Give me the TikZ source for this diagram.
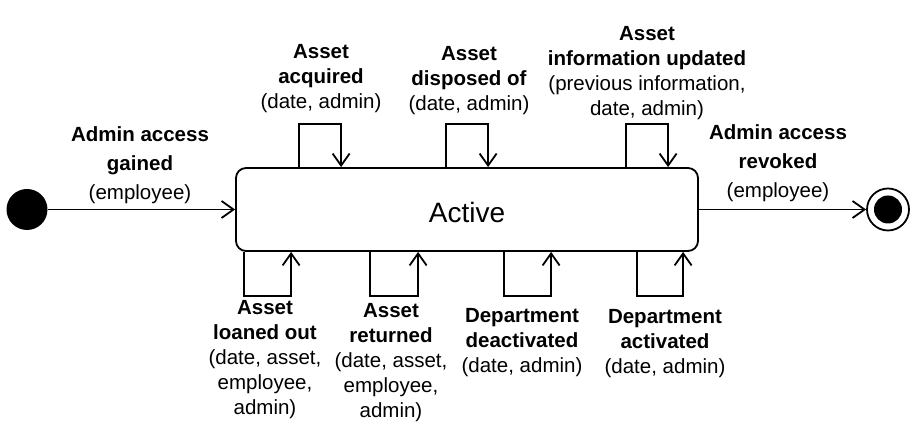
\documentclass[tikz,border=0pt]{standalone}
\usepackage{fontspec}
\setmainfont{Liberation Sans}
\usepackage{tikz}
\usetikzlibrary{shapes,arrows.meta}
\usetikzlibrary{positioning}
\tikzstyle{arrow} = [line width=1.8pt,-{Straight Barb[length=12pt,width=17pt]}]
\tikzstyle{state} = [
    rectangle, rounded corners=10pt, minimum width=462pt, minimum height=83pt,
    draw=black, line width=1.8pt, font=\fontsize{28}{32}\selectfont]
\tikzstyle{event} = [align=center, inner sep=0pt, font=\fontsize{20.5}{25}\selectfont]
\tikzstyle{start} = [circle, fill=black, minimum size=41pt, inner sep=0pt]
\tikzstyle{stop} = [circle, draw=black, line width=1.8pt, minimum size=42pt, inner sep=0pt]

\begin{document}
\begin{tikzpicture}[x=1pt,y=1pt]
\useasboundingbox (0,0) rectangle (914,427);
\node (active) [state] at (467,217.5) {\raisebox{-3pt}[\height][\depth]{Active}};
\node (init) [start] at (27,217.5) {};
\node (final) [stop] at (888,217.5) {};
\fill (final.center) circle (14);

\draw[arrow] (init) -- (active);
\draw[arrow] (active) -- (final);

\draw[arrow] ([xshift=64pt]active.north west) -- ++(0,43) -| ([xshift=106pt]active.north west);
\draw[arrow] ([xshift=211pt]active.north west) -- ++(0,43) -| ([xshift=253pt]active.north west);
\draw[arrow] ([xshift=391pt]active.north west) -- ++(0,43) -| ([xshift=433pt]active.north west);

\draw[arrow] ([xshift=9pt]active.south west) -- ++(0,-44) -| ([xshift=56pt]active.south west);
\draw[arrow] ([xshift=135pt]active.south west) -- ++(0,-44) -| ([xshift=183pt]active.south west);
\draw[arrow] ([xshift=269pt]active.south west) -- ++(0,-44) -| ([xshift=316pt]active.south west);
\draw[arrow] ([xshift=402pt]active.south west) -- ++(0,-44) -| ([xshift=448pt]active.south west);

\node (gained) [event] at (140,261.5) {
    \textbf{Admin access}\\[4pt]
    \textbf{gained}\\[4pt]
    (employee)
};
\node (revoked) [event] at (778,263.5) {
    \textbf{Admin access}\\[4pt]
    \textbf{revoked}\\[4pt]
    (employee)
};
\node (acquired) [event] at (321,348.5) {
    \textbf{Asset}\\
    \textbf{acquired}\\
    (date, admin)
};
\node (disposed) [event] at (469,346.5) {
    \textbf{Asset}\\
    \textbf{disposed of}\\
    (date, admin)
};
\node (updated) [event] at (647,354) {
    \textbf{Asset}\\
    \textbf{information updated}\\
    (previous information,\\
    date, admin)
};
\node (loaned) [event] at (265,67.5) {
    \textbf{Asset}\\
    \textbf{loaned out}\\
    (date, asset,\\
    employee,\\
    admin)
};
\node (returned) [event] at (391,64.5) {
    \textbf{Asset}\\
    \textbf{returned}\\
    (date, asset,\\
    employee,\\
    admin)
};
\node (deactivated) [event] at (522,84.5) {
    \textbf{Department}\\
    \textbf{deactivated}\\
    (date, admin)
};
\node (activated) [event] at (665,83.5) {
    \textbf{Department}\\
    \textbf{activated}\\
    (date, admin)
};
\end{tikzpicture}
\end{document}
